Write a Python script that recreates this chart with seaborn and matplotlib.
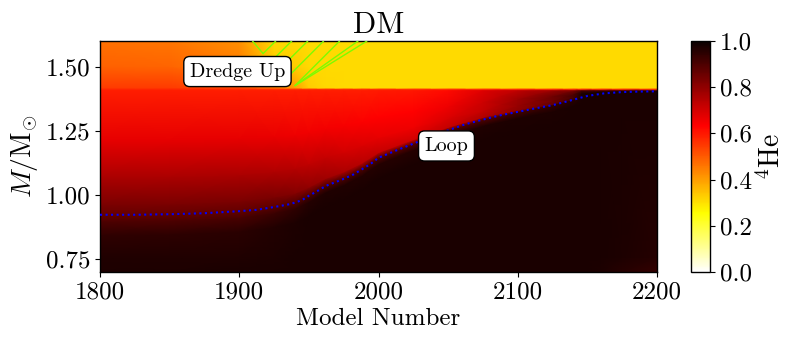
import numpy as np
import matplotlib
matplotlib.use("Agg")
import matplotlib.pyplot as plt
import seaborn as sns

# ---------------- data ----------------
# mesh columns (model numbers)
models = [1800, 1850, 1900, 1925, 1940, 1950, 1962, 1975, 1988, 2000,
          2025, 2050, 2075, 2100, 2125, 2140, 2146, 2160, 2175, 2200]
# core boundary (mass coordinate) at those models
boundary = [0.923, 0.926, 0.937, 0.955, 0.972, 0.998, 1.035, 1.063, 1.100, 1.145,
            1.200, 1.252, 1.294, 1.324, 1.350, 1.372, 1.380, 1.392, 1.401, 1.404]

# 4He mass fraction along each layer of the mesh (bottom -> top)
he_m070 = [0.972, 0.972, 0.973, 0.975, 0.975, 0.975, 0.975, 0.975, 0.975, 0.975,
           0.975, 0.975, 0.975, 0.975, 0.975, 0.975, 0.975, 0.972, 0.955, 0.935]
he_m076 = [0.965, 0.966, 0.968, 0.972, 0.975, 0.975, 0.975, 0.975, 0.975, 0.975,
           0.975, 0.975, 0.975, 0.975, 0.975, 0.975, 0.975, 0.975, 0.972, 0.958]
he_core_deep = [0.945, 0.946, 0.950, 0.962, 0.970, 0.975, 0.975, 0.975, 0.975, 0.975,
                0.975, 0.975, 0.975, 0.975, 0.975, 0.975, 0.975, 0.975, 0.975, 0.975]
he_core_edge = [0.895, 0.897, 0.905, 0.925, 0.945, 0.960, 0.965, 0.965, 0.963, 0.960,
                0.958, 0.960, 0.965, 0.970, 0.972, 0.975, 0.975, 0.975, 0.975, 0.975]
he_on_line = [0.86, 0.86, 0.865, 0.875, 0.89, 0.90, 0.90, 0.90, 0.90, 0.89,
              0.88, 0.88, 0.89, 0.91, 0.93, 0.95, 0.975, 0.975, 0.975, 0.975]
he_above_1 = [0.83, 0.83, 0.83, 0.83, 0.82, 0.80, 0.78, 0.76, 0.74, 0.72,
              0.70, 0.72, 0.75, 0.80, 0.86, 0.92, 0.975, 0.975, 0.975, 0.975]
he_above_2 = [0.76, 0.76, 0.76, 0.75, 0.745, 0.73, 0.72, 0.70, 0.69, 0.67,
              0.66, 0.69, 0.72, 0.79, 0.85, 0.91, 0.975, 0.975, 0.975, 0.975]
he_above_3 = [0.67, 0.67, 0.67, 0.665, 0.66, 0.655, 0.65, 0.645, 0.64, 0.635,
              0.635, 0.66, 0.71, 0.78, 0.85, 0.90, 0.975, 0.975, 0.975, 0.975]
he_below_env = [0.59, 0.59, 0.59, 0.59, 0.59, 0.59, 0.59, 0.59, 0.59, 0.595,
                0.60, 0.62, 0.68, 0.73, 0.78, 0.82, 0.90, 0.90, 0.90, 0.90]
he_env_edge = [0.575, 0.575, 0.57, 0.56, 0.56, 0.56, 0.56, 0.56, 0.56, 0.56,
               0.56, 0.56, 0.56, 0.56, 0.56, 0.56, 0.56, 0.56, 0.56, 0.56]
he_env_base = [0.55, 0.55, 0.52, 0.45, 0.40, 0.33, 0.315, 0.31, 0.31, 0.31,
               0.31, 0.31, 0.31, 0.31, 0.31, 0.31, 0.31, 0.31, 0.31, 0.31]
he_env_mid = [0.49, 0.485, 0.45, 0.33, 0.33, 0.31, 0.31, 0.31, 0.31, 0.31,
              0.31, 0.31, 0.31, 0.31, 0.31, 0.31, 0.31, 0.31, 0.31, 0.31]
he_env_top = [0.465, 0.46, 0.42, 0.315, 0.31, 0.31, 0.31, 0.31, 0.31, 0.31,
              0.31, 0.31, 0.31, 0.31, 0.31, 0.31, 0.31, 0.31, 0.31, 0.31]

# blue dotted boundary line
line_models = [1800, 1825, 1850, 1875, 1900, 1912, 1925, 1937, 1945, 1950, 1956, 1962,
               1969, 1975, 1982, 1988, 1994, 2000, 2012, 2025, 2037, 2050, 2062, 2075,
               2087, 2100, 2112, 2125, 2137, 2150, 2162, 2175, 2187, 2200]
line_mass = [0.923, 0.923, 0.925, 0.929, 0.937, 0.942, 0.953, 0.965, 0.980, 0.997, 1.015, 1.035,
             1.050, 1.063, 1.080, 1.100, 1.120, 1.145, 1.172, 1.200, 1.226, 1.252, 1.275, 1.294,
             1.310, 1.324, 1.337, 1.350, 1.367, 1.386, 1.396, 1.401, 1.403, 1.404]

# green dredge-up contour segments
green_x0 = [1917.1, 1917.1, 1922.8, 1928.5, 1934.3, 1940.0, 1940.0, 1940.0]
green_y0 = [1.551, 1.551, 1.520, 1.488, 1.457, 1.426, 1.426, 1.426]
green_x1 = [1909.5, 1926.2, 1937.7, 1949.2, 1960.6, 1972.1, 1985.3, 1991.7]
green_y1 = [1.60, 1.60, 1.60, 1.60, 1.60, 1.60, 1.60, 1.60]

x_ticks = [1800, 1900, 2000, 2100, 2200]
y_ticks = [0.75, 1.00, 1.25, 1.50]
c_ticks = [0.0, 0.2, 0.4, 0.6, 0.8, 1.0]

# ---------------- style ----------------
sns.set_theme(style="ticks", rc={
    "axes.edgecolor": "black", "xtick.color": "black", "ytick.color": "black",
    "text.color": "black", "axes.labelcolor": "black", "axes.linewidth": 1.0,
    "xtick.major.size": 3.5, "ytick.major.size": 3.5,
    "xtick.major.width": 0.8, "ytick.major.width": 0.8,
})
plt.rcParams["font.family"] = ["cmr10", "DejaVu Serif"]
plt.rcParams["mathtext.fontset"] = "cm"
plt.rcParams["axes.formatter.use_mathtext"] = True
plt.rcParams["axes.unicode_minus"] = False

fig = plt.figure(figsize=(7.85, 3.46), dpi=100)
ax = fig.add_axes([0.1274, 0.2139, 0.7096, 0.6676])
cax = fig.add_axes([0.880, 0.2139, 0.0245, 0.6676])

# ---------------- mesh ----------------
b = np.array(boundary)
T = 1.408
n = len(models)
Y = np.vstack([
    np.full(n, 0.70), np.full(n, 0.76), b - 0.08, b - 0.025, b,
    b + 0.08 * (T - b), b + 0.3 * (T - b), b + 0.6 * (T - b),
    np.full(n, T), np.full(n, 1.413), np.full(n, 1.418),
    np.full(n, 1.50), np.full(n, 1.60)])
X = np.tile(np.array(models, dtype=float), (Y.shape[0], 1))
C = np.vstack([he_m070, he_m076, he_core_deep, he_core_edge, he_on_line,
               he_above_1, he_above_2, he_above_3, he_below_env, he_env_edge,
               he_env_base, he_env_mid, he_env_top])

pcm = ax.pcolormesh(X, Y, C, shading="gouraud", cmap="hot_r", vmin=0, vmax=1,
                    rasterized=True, zorder=1)

for x0, y0, x1, y1 in zip(green_x0, green_y0, green_x1, green_y1):
    ax.plot([x0, x1], [y0, y1], color="lawngreen", lw=1.0, zorder=3)

sns.lineplot(x=line_models, y=line_mass, ax=ax, color="blue", lw=1.5,
             linestyle=":", zorder=4)

box = dict(boxstyle="round,pad=0.3", fc="white", ec="black", lw=1.0)
ax.text(1898.7, 1.481, "Dredge Up", ha="center", va="center", fontsize=14.5,
        bbox=box, zorder=6)
ax.text(2048.8, 1.191, "Loop", ha="center", va="center", fontsize=14.5,
        bbox=box, zorder=6)

ax.set_xlim(1800, 2200)
ax.set_ylim(0.70, 1.60)
ax.set_xticks(x_ticks, labels=[str(v) for v in x_ticks])
ax.set_yticks(y_ticks, labels=[f"{v:.2f}" for v in y_ticks])
ax.tick_params(labelsize=18)
ax.set_xlabel("Model Number", fontsize=18, labelpad=3)
ax.set_ylabel(r"$M/\mathrm{M}_{\odot}$", fontsize=20, labelpad=4)
ax.set_title("DM", fontsize=22)
for s in ax.spines.values():
    s.set_visible(True)

cb = fig.colorbar(pcm, cax=cax)
cb.set_ticks(c_ticks, labels=[f"{v:.1f}" for v in c_ticks])
cb.ax.tick_params(labelsize=18)
cb.set_label(r"$^{4}\mathrm{He}$", fontsize=20)
cb.outline.set_edgecolor("black")

fig.savefig("out.png", dpi=100)
